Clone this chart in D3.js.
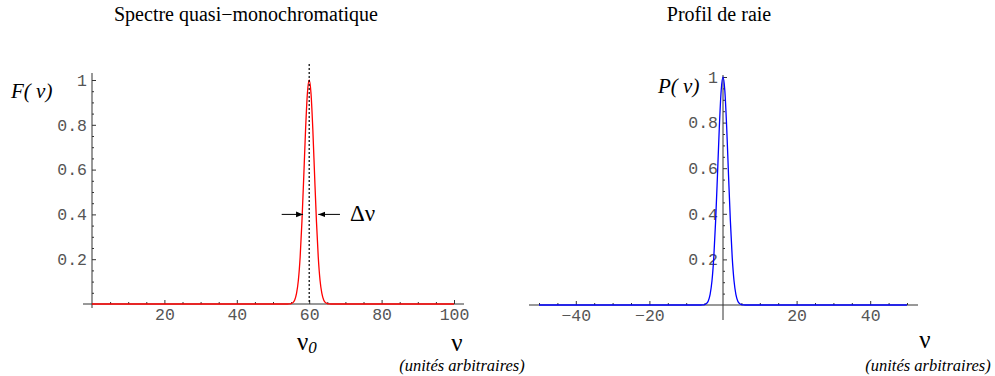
<!DOCTYPE html>
<html>
<head>
<meta charset="utf-8">
<script src="https://cdn.jsdelivr.net/npm/d3@7"></script>
<style>
  body { margin: 0; background: #fff; }
  svg { display: block; }
  .tick text { font-family: "Liberation Mono", monospace; font-size: 16.5px; fill: #555; }
  .serif { font-family: "Liberation Serif", "Times New Roman", serif; fill: #000; }
</style>
</head>
<body>
<div id="chart-area"></div>
<script>
// spectre quasi-monochromatique : F(nu) autour de nu0 = 60
var freqLeft = [0, 50, 54, 54.5, 55, 55.5, 56, 56.5, 57, 57.5, 58, 58.5, 59, 59.5, 60,
                60.5, 61, 61.5, 62, 62.5, 63, 63.5, 64, 64.5, 65, 65.5, 66, 70, 100];
var valLeft  = [0, 0, 0, 0.0005, 0.002, 0.006, 0.018, 0.047, 0.105, 0.21, 0.37, 0.57, 0.78, 0.94, 1,
                0.94, 0.78, 0.57, 0.37, 0.21, 0.105, 0.047, 0.018, 0.006, 0.002, 0.0005, 0, 0, 0];

// profil de raie : P(nu) centre sur 0
var freqRight = [-50, -10, -6, -5.5, -5, -4.5, -4, -3.5, -3, -2.5, -2, -1.5, -1, -0.5, 0,
                 0.5, 1, 1.5, 2, 2.5, 3, 3.5, 4, 4.5, 5, 5.5, 6, 10, 50];
var valRight  = [0, 0, 0, 0.0005, 0.002, 0.006, 0.018, 0.047, 0.105, 0.21, 0.37, 0.57, 0.78, 0.94, 1,
                 0.94, 0.78, 0.57, 0.37, 0.21, 0.105, 0.047, 0.018, 0.006, 0.002, 0.0005, 0, 0, 0];

var xTicksLeft = [20, 40, 60, 80, 100];
var xTicksRight = [-40, -20, 20, 40];
var yTicks = [0.2, 0.4, 0.6, 0.8, 1];

var width = 995, height = 376;

var svg = d3.select("#chart-area")
  .append("svg")
  .attr("width", width)
  .attr("height", height);

function minors(lo, hi, step, majors) {
  var out = [];
  for (var v = lo; v <= hi + 1e-9; v += step) {
    var r = Math.round(v * 1000) / 1000;
    if (majors.indexOf(r) < 0 && r !== 0) out.push(r);
  }
  return out;
}

function drawPanel(cfg) {
  var g = svg.append("g");
  var x = d3.scaleLinear().domain(cfg.xDomain).range(cfg.xRange);
  var y = d3.scaleLinear().domain([0, 1]).range(cfg.yRange);

  // axis lines (they run a bit past the data range)
  g.append("line")
    .attr("x1", cfg.xLine[0]).attr("x2", cfg.xLine[1])
    .attr("y1", y(0)).attr("y2", y(0))
    .attr("stroke", "#333").attr("stroke-width", 1);
  g.append("line")
    .attr("x1", x(0)).attr("x2", x(0))
    .attr("y1", cfg.yLine[0]).attr("y2", cfg.yLine[1])
    .attr("stroke", "#333").attr("stroke-width", 1);

  // x axis, ticks pointing up
  var xAxis = d3.axisBottom(x).tickValues(cfg.xTicks).tickSizeInner(-4).tickSizeOuter(0).tickPadding(4);
  var xa = g.append("g").attr("transform", "translate(0," + y(0) + ")").call(xAxis);
  xa.select(".domain").remove();
  xa.selectAll(".tick line").attr("stroke", "#333");

  var xMinor = d3.axisBottom(x).tickValues(minors(cfg.xDomain[0], cfg.xDomain[1], 5, cfg.xTicks))
    .tickSizeInner(-2).tickSizeOuter(0).tickFormat("");
  var xm = g.append("g").attr("transform", "translate(0," + y(0) + ")").call(xMinor);
  xm.select(".domain").remove();
  xm.selectAll(".tick line").attr("stroke", "#333");

  // y axis, ticks pointing right
  var yAxis = d3.axisLeft(y).tickValues(yTicks).tickSizeInner(-4).tickSizeOuter(0).tickPadding(5)
    .tickFormat(function(d) { return d === 1 ? "1" : d3.format(".1f")(d); });
  var ya = g.append("g").attr("transform", "translate(" + x(0) + ",0)").call(yAxis);
  ya.select(".domain").remove();
  ya.selectAll(".tick line").attr("stroke", "#333");

  var yMinor = d3.axisLeft(y).tickValues(minors(0, 1, 0.05, yTicks)).tickSizeInner(-2).tickSizeOuter(0).tickFormat("");
  var ym = g.append("g").attr("transform", "translate(" + x(0) + ",0)").call(yMinor);
  ym.select(".domain").remove();
  ym.selectAll(".tick line").attr("stroke", "#333");

  // curve
  var pts = cfg.freq.map(function(f, i) { return [f, cfg.vals[i]]; });
  var line = d3.line()
    .x(function(d) { return x(d[0]); })
    .y(function(d) { return y(d[1]); })
    .curve(d3.curveMonotoneX);
  g.append("path")
    .datum(pts)
    .attr("d", line)
    .attr("fill", "none")
    .attr("stroke", cfg.color)
    .attr("stroke-width", 1.3);

  // title
  g.append("text").attr("class", "serif")
    .attr("x", cfg.titleX).attr("y", 21)
    .attr("text-anchor", "middle")
    .attr("font-size", "20px")
    .text(cfg.title);

  // y label
  g.append("text").attr("class", "serif")
    .attr("x", cfg.yLabelX).attr("y", cfg.yLabelY)
    .attr("font-size", "21px")
    .attr("font-style", "italic")
    .text(cfg.yLabel);

  // x label
  g.append("text").attr("class", "serif")
    .attr("x", cfg.nuX).attr("y", cfg.nuY)
    .attr("text-anchor", "middle")
    .attr("font-size", "25px")
    .text("\u03bd");
  g.append("text").attr("class", "serif")
    .attr("x", cfg.unitX).attr("y", cfg.unitY)
    .attr("text-anchor", "middle")
    .attr("font-size", "16.5px")
    .attr("font-style", "italic")
    .text("(unit\u00e9s arbitraires)");

  return { g: g, x: x, y: y };
}

var left = drawPanel({
  xDomain: [0, 100], xRange: [92, 454], xLine: [83, 464],
  yRange: [304, 80], yLine: [308, 73],
  xTicks: xTicksLeft, freq: freqLeft, vals: valLeft, color: "#ff0000",
  title: "Spectre quasi\u2212monochromatique", titleX: 246,
  yLabel: "F( \u03bd)", yLabelX: 11, yLabelY: 98,
  nuX: 457, nuY: 351, unitX: 462, unitY: 371
});

var right = drawPanel({
  xDomain: [-50, 50], xRange: [539, 907], xLine: [529, 918],
  yRange: [305, 77], yLine: [320, 75],
  xTicks: xTicksRight, freq: freqRight, vals: valRight, color: "#0000ff",
  title: "Profil de raie", titleX: 719,
  yLabel: "P( \u03bd)", yLabelX: 658, yLabelY: 93,
  nuX: 925, nuY: 348, unitX: 928, unitY: 371
});

// nu0 : ligne pointillee au centre
var lg = left.g, lx = left.x, ly = left.y;
lg.append("line")
  .attr("x1", lx(60)).attr("x2", lx(60))
  .attr("y1", 64).attr("y2", ly(0))
  .attr("stroke", "#000").attr("stroke-width", 1.2)
  .attr("stroke-dasharray", "2,2");

// largeur Delta nu, fleches a mi-hauteur
svg.append("defs").append("marker")
  .attr("id", "head")
  .attr("viewBox", "0 0 10 10")
  .attr("refX", 10).attr("refY", 5)
  .attr("markerWidth", 7).attr("markerHeight", 7)
  .attr("markerUnits", "userSpaceOnUse")
  .attr("orient", "auto")
  .append("path").attr("d", "M0,1L10,5L0,9z").attr("fill", "#000");

var yArrow = ly(0.4);
lg.append("line")
  .attr("x1", lx(52.4)).attr("x2", lx(58.3))
  .attr("y1", yArrow).attr("y2", yArrow)
  .attr("stroke", "#000").attr("stroke-width", 1)
  .attr("marker-end", "url(#head)");
lg.append("line")
  .attr("x1", lx(68.5)).attr("x2", lx(62.5))
  .attr("y1", yArrow).attr("y2", yArrow)
  .attr("stroke", "#000").attr("stroke-width", 1)
  .attr("marker-end", "url(#head)");
lg.append("text").attr("class", "serif")
  .attr("x", 350).attr("y", 221)
  .attr("font-size", "23px")
  .text("\u0394\u03bd");

// nu0 sous l'axe
var nu0 = lg.append("text").attr("class", "serif")
  .attr("x", 297).attr("y", 350)
  .attr("font-size", "25px");
nu0.append("tspan").text("\u03bd");
nu0.append("tspan").attr("font-size", "17px").attr("font-style", "italic").attr("dy", 3).text("0");
</script>
</body>
</html>
